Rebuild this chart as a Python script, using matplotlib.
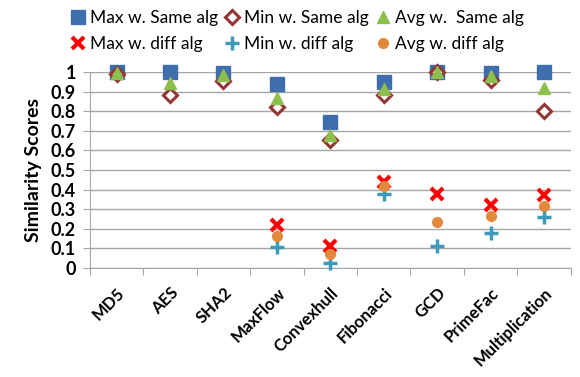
import numpy as np
import matplotlib
matplotlib.use('Agg')
import matplotlib.pyplot as plt
from matplotlib.ticker import FixedLocator, NullFormatter

plt.rcParams['font.family'] = ['Lato', 'DejaVu Sans']

categories = ['MD5', 'AES', 'SHA2', 'MaxFlow', 'Convexhull', 'Fibonacci',
              'GCD', 'PrimeFac', 'Multiplication']
nan = np.nan
max_same = [1.0, 1.0, 0.995, 0.94, 0.745, 0.95, 1.0, 0.995, 1.0]
min_same = [0.99, 0.885, 0.955, 0.82, 0.655, 0.885, 1.0, 0.96, 0.80]
avg_same = [0.995, 0.945, 0.985, 0.868, 0.678, 0.915, 1.0, 0.982, 0.92]
max_diff = [nan, nan, nan, 0.22, 0.11, 0.44, 0.38, 0.32, 0.372]
min_diff = [nan, nan, nan, 0.105, 0.025, 0.378, 0.11, 0.18, 0.262]
avg_diff = [nan, nan, nan, 0.165, 0.07, 0.418, 0.237, 0.268, 0.318]

x = np.arange(len(categories))

fig = plt.figure(figsize=(5.8, 3.77), dpi=100)
ax = fig.add_axes([0.155, 0.289, 0.829, 0.52])

h1, = ax.plot(x, max_same, 's', color='#3F6EAE', markersize=10, clip_on=False, zorder=3,
              label='Max w. Same alg')
h2, = ax.plot(x, min_same, 'D', markerfacecolor='white', markeredgecolor='#943634',
              markeredgewidth=2.2, markersize=7.5, clip_on=False, zorder=4, label='Min w. Same alg')
h3, = ax.plot(x, avg_same, '^', color='#8DBF4E', markersize=8, clip_on=False, zorder=5,
              label='Avg w.  Same alg')
h4, = ax.plot(x, max_diff, 'x', color='#FF0000', markersize=9, markeredgewidth=3,
              clip_on=False, zorder=3, label='Max w. diff alg')
h5, = ax.plot(x, min_diff, '+', color='#3E9BB8', markersize=10, markeredgewidth=2.5,
              clip_on=False, zorder=3, label='Min w. diff alg')
h6, = ax.plot(x, avg_diff, 'o', color='#E3893B', markersize=7, clip_on=False, zorder=4,
              label='Avg w. diff alg')

ax.set_xlim(-0.5, len(categories) - 0.5)
ax.set_ylim(0, 1)
ax.set_yticks(np.arange(0, 1.01, 0.1))
ax.set_yticklabels(['0', '0.1', '0.2', '0.3', '0.4', '0.5', '0.6', '0.7', '0.8', '0.9', '1'],
                   fontsize=13, fontweight='bold')
ax.yaxis.grid(True, color='#A6A6A6', linewidth=1)
ax.set_axisbelow(True)

ax.xaxis.set_major_locator(FixedLocator(np.arange(-0.5, len(categories), 1)))
ax.xaxis.set_major_formatter(NullFormatter())
ax.xaxis.set_minor_locator(FixedLocator(x))
ax.set_xticklabels(categories, minor=True, rotation=45, ha='right', rotation_mode='anchor',
                   fontsize=12, fontweight='bold')
ax.tick_params(axis='x', which='major', length=5, color='#A6A6A6', direction='out')
ax.tick_params(axis='x', which='minor', length=0, pad=12)
ax.tick_params(axis='y', length=5, color='#A6A6A6', pad=5)

for s in ['top', 'right']:
    ax.spines[s].set_visible(False)
ax.spines['left'].set_color('#A6A6A6')
ax.spines['bottom'].set_color('#A6A6A6')

ax.set_ylabel('Similarity Scores', fontsize=14, fontweight='bold', labelpad=6)

handles = [h1, h4, h2, h5, h3, h6]
fig.legend(handles=handles, labels=[h.get_label() for h in handles], ncol=3,
           loc='upper left', bbox_to_anchor=(0.095, 1.015), frameon=False, fontsize=12.5,
           handlelength=0.8, handletextpad=0.3, columnspacing=0.4, labelspacing=0.6)

fig.savefig('out.png', dpi=100)
